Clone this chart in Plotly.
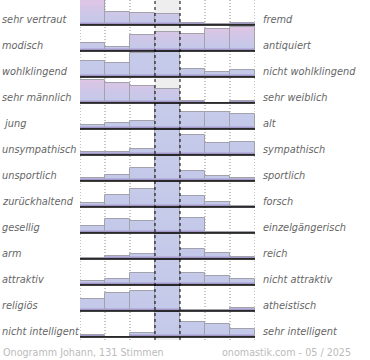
import plotly.graph_objects as go

left_labels = ["sehr vertraut", "modisch", "wohlklingend", "sehr männlich", "\u00a0jung",
               "unsympathisch", "unsportlich", "zurückhaltend", "gesellig", "arm",
               "attraktiv", "religiös", "nicht intelligent"]
right_labels = ["fremd", "antiquiert", "nicht wohlklingend", "sehr weiblich", "alt",
                "sympathisch", "sportlich", "forsch", "einzelgängerisch", "reich",
                "nicht attraktiv", "atheistisch", "sehr intelligent"]

# share of votes per scale step, as fraction of full row height (1 = full / clipped)
r01 = [1.00, 0.53, 0.49, 0.45, 0.09, 0.05, 0.09]
r02 = [0.31, 0.15, 0.63, 0.75, 0.67, 0.89, 0.97]
r03 = [0.63, 0.57, 0.96, 1.00, 0.33, 0.19, 0.29]
r04 = [0.93, 0.79, 0.68, 0.56, 0.07, 0.00, 0.07]
r05 = [0.16, 0.24, 0.32, 1.00, 0.67, 0.67, 0.60]
r06 = [0.13, 0.13, 0.23, 1.00, 0.79, 0.49, 0.53]
r07 = [0.13, 0.24, 0.52, 1.00, 0.40, 0.20, 0.12]
r08 = [0.15, 0.47, 0.72, 1.00, 0.44, 0.19, 0.04]
r09 = [0.29, 0.56, 0.48, 1.00, 0.60, 0.03, 0.03]
r10 = [0.05, 0.12, 0.21, 1.00, 0.41, 0.25, 0.08]
r11 = [0.15, 0.24, 0.49, 1.00, 0.49, 0.37, 0.24]
r12 = [0.47, 0.71, 0.81, 1.00, 0.05, 0.05, 0.13]
r13 = [0.09, 0.00, 0.15, 1.00, 0.61, 0.51, 0.31]
rows = [r01, r02, r03, r04, r05, r06, r07, r08, r09, r10, r11, r12, r13]

footer_left = "Onogramm Johann, 131 Stimmen"
footer_right = "onomastik.com - 05 / 2025"

# ---- styling ----
N = len(rows)
K = 25 / 26  # full bar height relative to row spacing
PINK_ROWS = {0, 1, 3}
levels = [1.0, 0.8, 0.6, 0.4, 0.2, 0.12, 0.06]
pink_cols = ["#dcc5e5", "#d6c6e6", "#cfc7e7", "#c9c8e8", "#c4c9e9", "#b7b2db", "#a396c8"]
blue_cols = ["#c7cbea", "#c6cbea", "#c5caea", "#c4c9e9", "#c3c9e9", "#b7b2db", "#a396c8"]

xs, bases, vals, rowidx = [], [], [], []
for i, r in enumerate(rows):
    for j, v in enumerate(r):
        xs.append(j)
        bases.append(N - 1 - i)
        vals.append(v)
        rowidx.append(i)

fig = go.Figure()
for li, lev in enumerate(levels):
    fig.add_trace(go.Bar(
        x=xs, y=[min(v, lev) * K for v in vals], base=bases, width=1,
        marker=dict(color=[pink_cols[li] if ri in PINK_ROWS else blue_cols[li] for ri in rowidx],
                    line=dict(width=0)),
        hoverinfo="skip", showlegend=False))
fig.add_trace(go.Bar(
    x=xs, y=[v * K for v in vals], base=bases, width=1,
    marker=dict(color="rgba(0,0,0,0)", line=dict(color="#a2a2ac", width=1)),
    hoverinfo="skip", showlegend=False))

ytop = N - 1 + K
ybot = -3 / 26
shapes = [dict(type="rect", xref="x", yref="y", x0=2.5, x1=3.5, y0=ybot, y1=ytop,
               fillcolor="#eeeeee", line=dict(width=0), layer="below")]
for xv in [-0.5, 0.5, 1.5, 4.5, 5.5, 6.5]:
    shapes.append(dict(type="line", xref="x", yref="y", x0=xv, x1=xv, y0=ybot, y1=ytop,
                       line=dict(color="#8a8a8a", width=1, dash="1px,2px"), layer="below"))
for xv in [2.5, 3.5]:
    shapes.append(dict(type="line", xref="x", yref="y", x0=xv, x1=xv, y0=ybot, y1=ytop,
                       line=dict(color="#000000", width=1, dash="3px,3px"), layer="above"))
for i in range(N):
    yb = N - 1 - i
    shapes.append(dict(type="line", xref="x", yref="y", x0=-0.5, x1=6.5, y0=yb, y1=yb,
                       line=dict(color="#000000", width=1.6), layer="above"))

annotations = []
lab_font = dict(family="DejaVu Sans", size=9.8, color="#666666", style="italic")
for i in range(N):
    yb = N - 1 - i + 5.5 / 26
    annotations.append(dict(text=left_labels[i], xref="paper", yref="y", x=0, y=yb,
                            xanchor="left", yanchor="middle", xshift=-80, showarrow=False,
                            font=lab_font))
    annotations.append(dict(text=right_labels[i], xref="x", yref="y", x=6.5, y=yb,
                            xanchor="left", yanchor="middle", xshift=6, showarrow=False,
                            font=lab_font))
foot_font = dict(family="DejaVu Sans", size=9.6, color="#bbbbbb")
annotations.append(dict(text=footer_left, xref="paper", yref="paper", x=(1 - 80) / 175,
                        y=(340 - 352) / 340, xanchor="left", yanchor="middle",
                        showarrow=False, font=foot_font))
annotations.append(dict(text=footer_right, xref="paper", yref="paper", x=(220 - 80) / 175,
                        y=(340 - 352) / 340, xanchor="left", yanchor="middle",
                        showarrow=False, font=foot_font))

fig.update_layout(
    width=370, height=360, margin=dict(l=80, r=115, t=0, b=20),
    barmode="overlay", bargap=0,
    paper_bgcolor="white", plot_bgcolor="white",
    xaxis=dict(range=[-0.5, 6.5], visible=False, fixedrange=True),
    yaxis=dict(range=[ybot, ytop], visible=False, fixedrange=True),
    shapes=shapes, annotations=annotations,
)
fig.write_html("out.html", config={"displayModeBar": False},
               post_script="document.body.style.margin='0';document.body.style.padding='0';")
